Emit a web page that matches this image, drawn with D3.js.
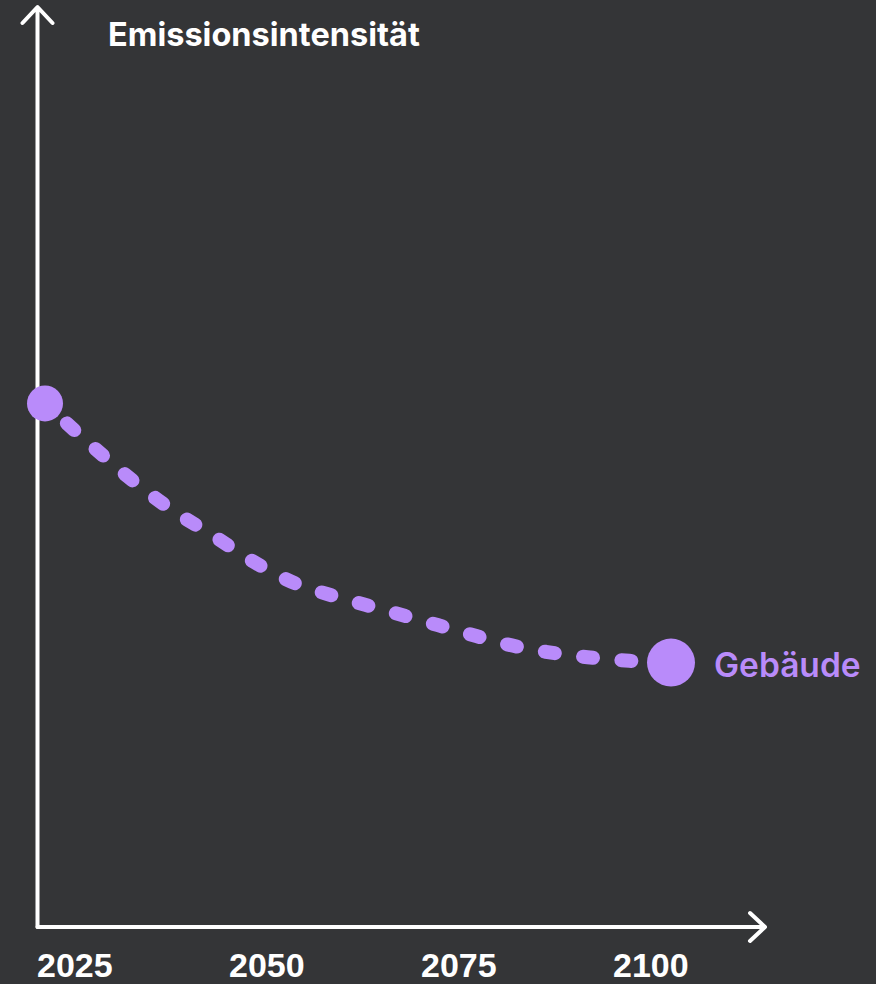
<!DOCTYPE html>
<html><head><meta charset="utf-8">
<script src="https://cdn.jsdelivr.net/npm/d3@7"></script>
<style>
html,body{margin:0;padding:0;background:#343537;}
svg{display:block;}
</style></head>
<body>
<svg id="chart" width="876" height="984"></svg>
<script>
const title = "Emissionsintensität";
const seriesName = "Gebäude";
const years = [2025,2030,2035,2040,2045,2050,2055,2060,2065,2070,2075,2080,2085,2090,2095,2100];
const values = [58.4,54.2,50.2,46.7,43.8,40.8,38.4,36.9,35.6,34.3,33.0,31.7,30.8,30.2,29.8,29.6];
const tickLabels = ["2025","2050","2075","2100"];

const W = 876, H = 984;
const bg = "#343537", purple = "#b98bfa", white = "#ffffff";
const svg = d3.select("#chart");
svg.append("rect").attr("width",W).attr("height",H).attr("fill",bg);

const x = d3.scaleLinear().domain([2025,2100]).range([45,671]);
const y = d3.scaleLinear().domain([0,100]).range([929,29]);
const xLab = d3.scalePoint().domain(tickLabels).range([37,613]);

const axX = 37.5, axY = 927;
// axes
svg.append("path")
  .attr("d", `M${axX},${axY} L${axX},8 M${axX-15},23 L${axX},7 L${axX+15},23`)
  .attr("fill","none").attr("stroke",white).attr("stroke-width",4)
  .attr("stroke-linecap","round").attr("stroke-linejoin","round");
svg.append("path")
  .attr("d", `M${axX},${axY} L764,${axY} M750,${axY-14} L765,${axY} L750,${axY+14}`)
  .attr("fill","none").attr("stroke",white).attr("stroke-width",4)
  .attr("stroke-linecap","round").attr("stroke-linejoin","round");

// title
svg.append("text").attr("x",108).attr("y",46)
  .attr("fill",white).attr("font-family","Inter, 'Noto Sans', sans-serif")
  .attr("font-weight",700).attr("font-size",32.5).text(title);

// tick labels
svg.selectAll("text.tick").data(tickLabels).enter().append("text")
  .attr("class","tick")
  .attr("x", d => xLab(d)).attr("y", 977)
  .attr("fill", white).attr("font-family","'Liberation Sans', Arial, sans-serif")
  .attr("font-weight",700).attr("font-size",34)
  .text(d => d);

const data = years.map((yr,i)=>({yr, v: values[i]}));
const line = d3.line().x(d=>x(d.yr)).y(d=>y(d.v)).curve(d3.curveMonotoneX);
svg.append("path").datum(data).attr("d", line)
  .attr("fill","none").attr("stroke",purple).attr("stroke-width",14)
  .attr("stroke-linecap","round").attr("stroke-dasharray","10 28.5")
  .attr("stroke-dashoffset", 9);

const first = data[0], last = data[data.length-1];
svg.append("circle").attr("cx",x(first.yr)).attr("cy",y(first.v)).attr("r",18).attr("fill",purple);
svg.append("circle").attr("cx",x(last.yr)).attr("cy",y(last.v)).attr("r",24).attr("fill",purple);

svg.append("text").attr("x",714).attr("y",677)
  .attr("fill",purple).attr("font-family","Inter, 'Noto Sans', sans-serif")
  .attr("font-weight",600).attr("font-size",33.5).text(seriesName);
</script>
</body></html>
